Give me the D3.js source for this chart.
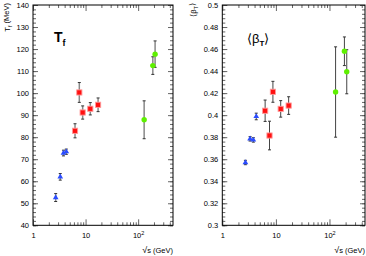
<!DOCTYPE html>
<html>
<head>
<meta charset="utf-8">
<script src="https://cdn.jsdelivr.net/npm/d3@7"></script>
<style>
  body { margin: 0; background: #fff; }
  svg { display: block; font-family: "Liberation Sans", Arial, sans-serif; }
</style>
</head>
<body>
<div id="chart"></div>
<script>
// data
const agsS = [2.7, 3.3, 3.8, 4.3];
const agsT = [52.6, 62.0, 72.8, 73.4];
const agsTErr = [1.8, 1.5, 1.3, 1.2];
const agsBeta = [0.357, 0.3785, 0.3775, 0.3988];
const agsBetaErr = [0.002, 0.002, 0.002, 0.003];

const spsS = [6.3, 7.6, 8.8, 12.3, 17.3];
const spsT = [82.9, 100.3, 91.2, 92.9, 94.7];
const spsTErr = [3.2, 4.5, 3.0, 2.8, 3.1];
const spsBetaS = [6.3, 7.6, 8.8, 12.3, 17.3];
const spsBeta = [0.404, 0.3815, 0.4212, 0.4057, 0.4087];
const spsBetaErr = [0.0097, 0.013, 0.0095, 0.0075, 0.008];

const rhicS = [130, 190, 210];
const rhicT = [87.9, 112.5, 117.7];
const rhicTErr = [8.6, 4.0, 6.0];
const rhicBeta = [0.421, 0.458, 0.4394];
const rhicBetaErr = [0.041, 0.013, 0.02];

const xDomain = [1, 460];
const xMajor = [1, 10, 100];
const xMinor = [2, 3, 4, 5, 6, 7, 8, 9, 20, 30, 40, 50, 60, 70, 80, 90, 200, 300, 400];

const width = 366, height = 256;

const svg = d3.select("#chart").append("svg")
  .attr("width", width)
  .attr("height", height);

function zip(s, v, e) {
  return s.map((d, i) => ({ s: d, v: v[i], e: e[i] }));
}

function panel(opt) {
  const x = d3.scaleLog().domain(xDomain).range([opt.left, opt.right]);
  const y = d3.scaleLinear().domain(opt.yDomain).range([opt.bottom, opt.top]);
  const g = svg.append("g");

  const yMinor = d3.range(opt.yDomain[0], opt.yDomain[1] + opt.minorStep / 2, opt.minorStep);

  // minor ticks on all four sides
  const minorAxes = [
    [d3.axisBottom(x).tickValues(xMinor), `translate(0,${opt.bottom})`, -3],
    [d3.axisTop(x).tickValues(xMinor), `translate(0,${opt.top})`, -3],
    [d3.axisLeft(y).tickValues(yMinor), `translate(${opt.left},0)`, -3],
    [d3.axisRight(y).tickValues(yMinor), `translate(${opt.right},0)`, -3]
  ];
  minorAxes.forEach(([ax, tr, len]) => {
    g.append("g").attr("transform", tr)
      .call(ax.tickSize(len).tickFormat(""))
      .call(s => s.select(".domain").remove())
      .call(s => s.selectAll("line").attr("stroke", "#666"));
  });

  // major ticks
  g.append("g").attr("transform", `translate(0,${opt.top})`)
    .call(d3.axisTop(x).tickValues(xMajor).tickSize(-6).tickFormat(""))
    .call(s => s.select(".domain").remove())
    .call(s => s.selectAll("line").attr("stroke", "#666"));
  g.append("g").attr("transform", `translate(${opt.right},0)`)
    .call(d3.axisRight(y).tickValues(opt.yMajor).tickSize(-5).tickFormat(""))
    .call(s => s.select(".domain").remove())
    .call(s => s.selectAll("line").attr("stroke", "#666"));

  const xa = g.append("g").attr("transform", `translate(0,${opt.bottom})`)
    .call(d3.axisBottom(x).tickValues(xMajor).tickSize(-6).tickPadding(7)
      .tickFormat(d => d === 100 ? "10" : String(d)))
    .call(s => s.select(".domain").remove())
    .call(s => s.selectAll("line").attr("stroke", "#666"));
  xa.selectAll("text").attr("font-size", 7.5).attr("fill", "#000")
    .filter(d => d === 100)
    .append("tspan").attr("dy", "-0.45em").attr("font-size", 5.5).text("2");

  g.append("g").attr("transform", `translate(${opt.left},0)`)
    .call(d3.axisLeft(y).tickValues(opt.yMajor).tickSize(-5).tickPadding(4)
      .tickFormat(opt.fmt))
    .call(s => s.select(".domain").remove())
    .call(s => s.selectAll("line").attr("stroke", "#666"))
    .call(s => s.selectAll("text").attr("font-size", 7.5).attr("fill", "#000"));

  // frame
  g.append("rect")
    .attr("x", opt.left).attr("y", opt.top)
    .attr("width", opt.right - opt.left).attr("height", opt.bottom - opt.top)
    .attr("fill", "none").attr("stroke", "#000").attr("stroke-width", 1);

  // error bars
  const all = [].concat(opt.ags, opt.sps, opt.rhic);
  const eb = g.append("g");
  eb.selectAll("line.bar").data(all).enter().append("line")
    .attr("x1", d => x(d.s)).attr("x2", d => x(d.s))
    .attr("y1", d => y(d.v - d.e)).attr("y2", d => y(d.v + d.e))
    .attr("stroke", opt.barColor).attr("stroke-width", opt.barWidth);
  [-1, 1].forEach(sign => {
    eb.selectAll(null).data(all).enter().append("line")
      .attr("x1", d => x(d.s) - 1.5).attr("x2", d => x(d.s) + 1.5)
      .attr("y1", d => y(d.v + sign * d.e)).attr("y2", d => y(d.v + sign * d.e))
      .attr("stroke", "#333").attr("stroke-width", 1);
  });

  // markers
  g.append("g").selectAll("path").data(opt.ags).enter().append("path")
    .attr("d", d3.symbol(d3.symbolTriangle, 14))
    .attr("transform", d => `translate(${x(d.s)},${y(d.v)})`)
    .attr("fill", "#2b4cff");
  g.append("g").selectAll("rect").data(opt.sps).enter().append("rect")
    .attr("x", d => x(d.s) - 2.6).attr("y", d => y(d.v) - 2.6)
    .attr("width", 5.2).attr("height", 5.2)
    .attr("fill", "#ff1010").attr("stroke", "#ff9a9a").attr("stroke-width", 0.9);
  g.append("g").selectAll("circle").data(opt.rhic).enter().append("circle")
    .attr("cx", d => x(d.s)).attr("cy", d => y(d.v)).attr("r", 2.7)
    .attr("fill", "#5ef000");

  // x title
  const xt = g.append("text")
    .attr("x", opt.right).attr("y", 253)
    .attr("text-anchor", "end").attr("font-size", 7.5);
  xt.append("tspan").attr("font-size", 9).text("\u221A");
  xt.append("tspan").text("s (GeV)");

  return g;
}

const left = panel({
  left: 33, right: 173, top: 5, bottom: 225.3,
  yDomain: [40, 140], yMajor: d3.range(40, 141, 10), minorStep: 2,
  fmt: d3.format("d"),
  ags: zip(agsS, agsT, agsTErr),
  sps: zip(spsS, spsT, spsTErr),
  rhic: zip(rhicS, rhicT, rhicTErr),
  barColor: "#888", barWidth: 1.5
});

const right = panel({
  left: 222.3, right: 365, top: 5, bottom: 225.3,
  yDomain: [0.3, 0.5], yMajor: d3.range(0, 11).map(i => 0.3 + i * 0.02), minorStep: 0.004,
  fmt: d => String(+d.toFixed(2)),
  ags: zip(agsS, agsBeta, agsBetaErr),
  sps: zip(spsBetaS, spsBeta, spsBetaErr),
  rhic: zip(rhicS, rhicBeta, rhicBetaErr),
  barColor: "#444", barWidth: 1
});

// y titles
const yt1 = svg.append("text")
  .attr("transform", "translate(10,3) rotate(-90)")
  .attr("text-anchor", "end").attr("font-size", 7.5);
yt1.append("tspan").text("T");
yt1.append("tspan").attr("font-size", 5.5).attr("dy", "0.35em").text("f");
yt1.append("tspan").attr("dy", "-0.35em").text(" (MeV)");

const yt2 = svg.append("text")
  .attr("transform", "translate(196,3) rotate(-90)")
  .attr("text-anchor", "end").attr("font-size", 7.5);
yt2.append("tspan").text("\u27E8\u03B2");
yt2.append("tspan").attr("font-size", 5.5).attr("dy", "0.35em").text("T");
yt2.append("tspan").attr("dy", "-0.35em").text("\u27E9");

// panel labels
const l1 = svg.append("text").attr("x", 54).attr("y", 42)
  .attr("font-size", 14).attr("font-weight", "bold");
l1.append("tspan").text("T");
l1.append("tspan").attr("font-size", 9).attr("dy", 4).text("f");

const l2 = svg.append("text").attr("x", 247).attr("y", 43)
  .attr("font-size", 13);
l2.append("tspan").text("\u27E8\u03B2");
l2.append("tspan").attr("font-size", 8).attr("font-weight", "bold").attr("dy", 3).text("T");
l2.append("tspan").attr("dy", -3).text("\u27E9");
</script>
</body>
</html>
